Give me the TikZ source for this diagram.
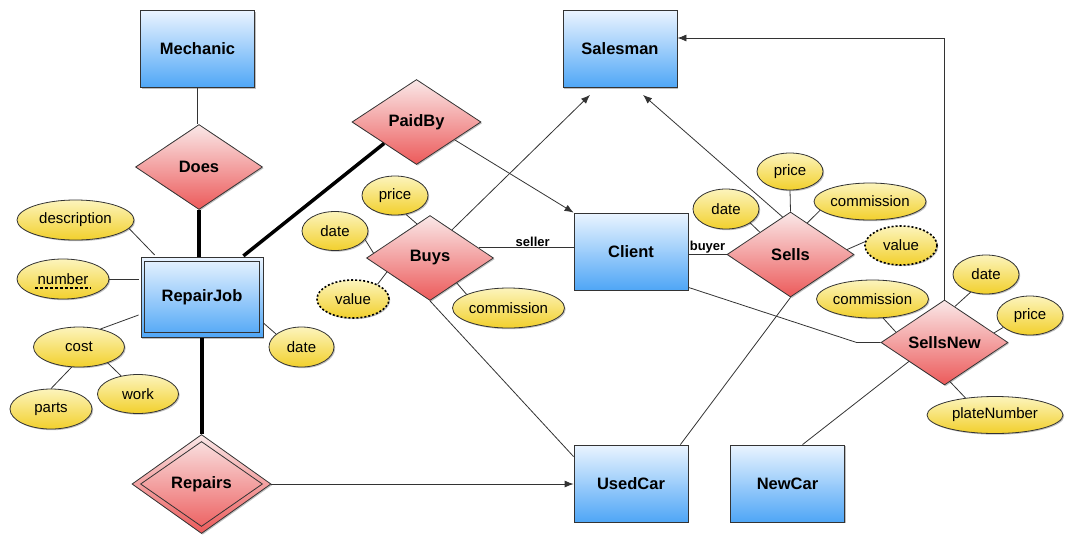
\documentclass[tikz,border=0pt]{standalone}
\usepackage{fontspec}
\setmainfont{Liberation Sans}
\usetikzlibrary{shapes.geometric,shadows,arrows.meta,calc}
\definecolor{entTop}{HTML}{EAF4FF}
\definecolor{entBot}{HTML}{4FA6F6}
\definecolor{relTop}{HTML}{FAE8E8}
\definecolor{relBot}{HTML}{EC5A5A}
\definecolor{attTop}{HTML}{FCF4BC}
\definecolor{attBot}{HTML}{F2D02C}
\definecolor{edge}{HTML}{333333}
\tikzset{
 shad/.style={drop shadow={shadow xshift=1.2pt,shadow yshift=-1.2pt,opacity=0.25,fill=black}},
 entity/.style={rectangle, draw=edge, line width=0.8pt, top color=entTop, bottom color=entBot,
   minimum width=114pt, minimum height=77pt, inner sep=0pt, font=\bfseries\fontsize{16.5}{19}\selectfont, shad},
 rel/.style={diamond, aspect=1.5, draw=edge, line width=0.8pt, top color=relTop, bottom color=relBot,
   minimum width=127pt, minimum height=85pt, inner sep=0pt, font=\bfseries\fontsize{16.5}{19}\selectfont, shad},
 innerline/.style={draw=edge, line width=0.8pt},
 attr/.style={ellipse, draw=edge, line width=0.8pt, top color=attTop, bottom color=attBot,
   inner sep=0pt, font=\fontsize{15}{18}\selectfont, shad},
 derived/.style={attr, draw=black, dash pattern=on 2pt off 2pt, line width=1.6pt},
 conn/.style={draw=edge, line width=0.8pt},
 strong/.style={draw=black, line width=3.5pt},
 arr/.style={conn, -{Latex[length=9pt,width=7pt]}},
 role/.style={font=\bfseries\fontsize{13}{15}\selectfont, inner sep=1pt},
}
\begin{document}
\begin{tikzpicture}[x=1pt,y=-1pt]
\useasboundingbox (0,0) rectangle (1067,536);
% entities
\node[entity] (mech) at (197.5,49) {Mechanic};
\node[entity] (sales) at (620,49) {Salesman};
\node[entity] (client) at (631,251.5) {Client};
\node[entity] (used) at (631,483.5) {UsedCar};
\node[entity] (newcar) at (787.5,483.5) {NewCar};
\node[entity, minimum width=122pt, minimum height=80pt] (rj) at (202,297.3) {RepairJob};
\draw[innerline] ($(rj.north west)+(4,4.4)$) rectangle ($(rj.south east)+(-4,-5.3)$);
% relationships
\node[rel] (does) at (199,167) {Does};
\node[rel, minimum width=129pt] (paidby) at (416.5,122) {PaidBy};
\node[rel] (buys) at (430,258) {Buys};
\node[rel] (sells) at (790.5,254.5) {Sells};
\node[rel] (sellsnew) at (944.5,342.5) {SellsNew};
\node[rel, minimum width=139pt, minimum height=99pt] (repairs) at (201.5,484) {Repairs};
\node[diamond, aspect=1.4, innerline, minimum width=122pt, minimum height=85pt, inner sep=0pt] (repairsin) at (repairs.center) {};
% attributes
\node[attr, minimum width=117pt, minimum height=40pt] (desc) at (75.5,220) {description};
\node[attr, minimum width=92pt, minimum height=40pt] (number) at (63,279) {number};
\node[attr, minimum width=91pt, minimum height=40pt] (cost) at (79,347) {cost};
\node[attr, minimum width=81pt, minimum height=39pt] (work) at (138,394) {work};
\node[attr, minimum width=82pt, minimum height=40pt] (parts) at (51,409) {parts};
\node[attr, minimum width=65pt, minimum height=40pt] (rjdate) at (301.5,347) {date};
\node[attr, minimum width=66pt, minimum height=39pt] (bprice) at (395,195.5) {price};
\node[attr, minimum width=66pt, minimum height=39pt] (bdate) at (335,231) {date};
\node[derived, minimum width=72pt, minimum height=38pt] (bvalue) at (353,299) {value};
\node[attr, minimum width=109pt, minimum height=40pt] (bcomm) at (508.5,308) {commission};
\node[attr, minimum width=66pt, minimum height=37pt] (sprice) at (790,171.5) {price};
\node[attr, minimum width=110pt, minimum height=37pt] (scomm) at (870,201.5) {commission};
\node[attr, minimum width=66pt, minimum height=40pt] (sdate) at (726,209) {date};
\node[derived, minimum width=72pt, minimum height=39pt] (svalue) at (901,245.5) {value};
\node[attr, minimum width=109pt, minimum height=38pt] (ncomm) at (872.5,299) {commission};
\node[attr, minimum width=66pt, minimum height=39pt] (ndate) at (986,274.5) {date};
\node[attr, minimum width=66pt, minimum height=39pt] (nprice) at (1030,315.5) {price};
\node[attr, minimum width=136pt, minimum height=37pt] (nplate) at (995,415) {plateNumber};
% key underline
\draw[dash pattern=on 3pt off 2pt, line width=1.2pt] ($(number.center)+(-28,9)$) -- ($(number.center)+(28,9)$);
% RepairJob side
\draw[conn] (mech.south) -- (mech.south |- does.north);
\draw[strong] (does.south) -- (does.south |- rj.north);
\draw[strong] (rj.south) -- (rj.south |- repairs.north);
\draw[strong] ($(rj.north east)+(-20,-1)$) -- (paidby.south west);
\draw[conn] (desc.-9) -- ($(rj.north west)+(14,-2)$);
\draw[conn] (number.east) -- ($(number.east -| rj.west)+(-2,0)$);
\draw[conn] (cost.40) -- ($(rj.west)+(-2,17.7)$);
\draw[conn] (cost.-110) -- (parts.north);
\draw[conn] (cost.-29) -- (work.133);
\draw[conn] (rjdate.153) -- ($(rj.east)+(0,25.7)$);
\draw[arr] (repairs.east) -- (repairs.east -| used.west);
% PaidBy / Buys
\draw[arr] (paidby.-25) -- (client.north west);
\draw[conn] (buys.12) -- (buys.12 -| client.west) node[role, above, pos=0.57] {seller};
\draw[arr] (buys.52) -- ($(sales.south)+(-30,7)$);
\draw[conn] (buys.south) -- ($(used.north west)+(0,12)$);
\draw[conn] (bprice.-60) -- (buys.111);
\draw[conn] (bdate.-16) -- (buys.175);
\draw[conn] (bvalue.31) -- (buys.198);
\draw[conn] (bcomm.162) -- (buys.-43);
% Sells
\draw[conn] (sells.west -| client.east) -- (sells.west) node[role, above, midway] {buyer};
\draw[arr] (sells.102) -- ($(sales.south)+(23,7)$);
\draw[conn] (sells.south) -- ($(used.north east)+(-8,0)$);
\draw[conn] (sprice.south) -- (sells.north);
\draw[conn] (scomm.190) -- (sells.62);
\draw[conn] (sdate.-30) -- (sells.144);
\draw[conn] (svalue.174) -- (sells.5);
% SellsNew
\draw[conn] ($(client.south east)+(0,-3)$) -- ($(sellsnew.west)+(-24,0)$) -- (sellsnew.west);
\draw[arr] (sellsnew.north) |- ($(sales.east)+(0,-11)$);
\draw[conn] (sellsnew.208) -- ($(newcar.north)+(15,0)$);
\draw[conn] (ncomm.-61) -- (sellsnew.168);
\draw[conn] (ndate.229) -- (sellsnew.74);
\draw[conn] (nprice.204) -- (sellsnew.11);
\draw[conn] (nplate.150) -- (sellsnew.-82);
\end{tikzpicture}
\end{document}
